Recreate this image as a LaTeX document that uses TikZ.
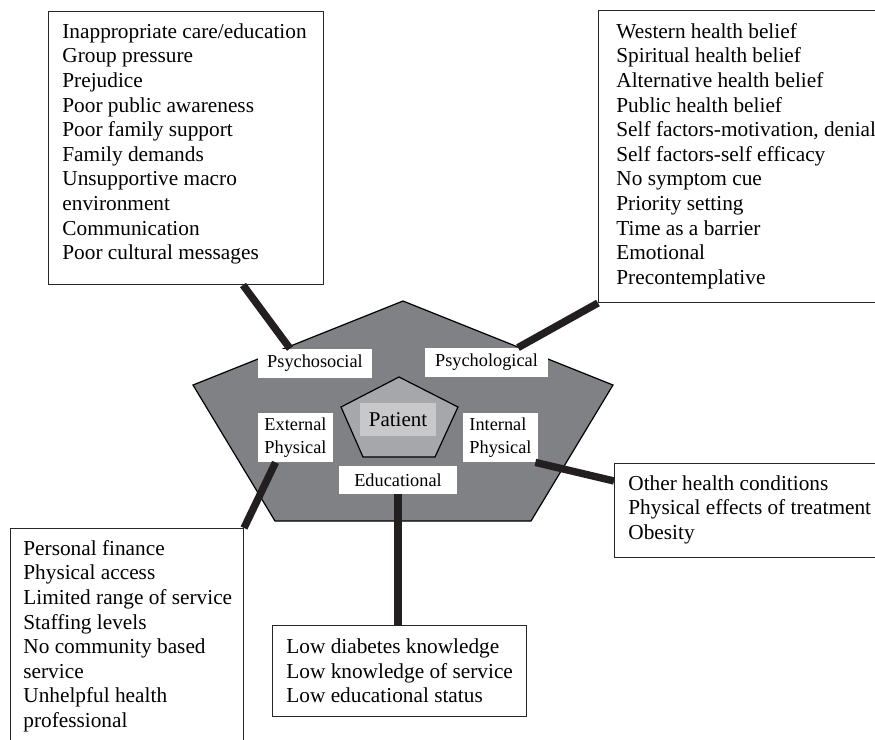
\documentclass[tikz,border=0pt]{standalone}
\usepackage{fontspec}
\setmainfont{Liberation Serif}
\usetikzlibrary{calc}
\definecolor{outergray}{RGB}{128, 129, 132}
\definecolor{innergray}{RGB}{166, 167, 170}
\definecolor{patientgray}{RGB}{200, 200, 202}
\definecolor{linkblack}{RGB}{35, 31, 32}

\begin{document}
\begin{tikzpicture}[x=0.5pt, y=-0.5pt,
  listbox/.style={draw=black!85, line width=0.5pt, fill=white, inner sep=0pt, anchor=north west},
  listtext/.style={font=\fontsize{10.65}{12.3}\selectfont, align=left, inner sep=0pt, anchor=north west},
  tag/.style={fill=white, inner sep=0pt, align=left, font=\fontsize{9.15}{11.2}\selectfont},
  link/.style={line width=3.7pt, linkblack}]
  \useasboundingbox (0, 0) rectangle (875, 740);
  \clip (0, 0) rectangle (875, 740);
  \node[listbox, minimum width=137.5pt, minimum height=136.5pt] (socbox) at (48, 11) {};
  \node[listbox, minimum width=146pt, minimum height=146pt] (beliefbox) at (598, 10) {};
  \node[listbox, minimum width=138pt, minimum height=47pt] (bodybox) at (614, 463) {};
  \node[listbox, minimum width=116.5pt, minimum height=115pt] (accessbox) at (10, 528) {};
  \node[listbox, minimum width=127pt, minimum height=45.5pt] (knowbox) at (272, 625) {};
  \node[listtext] (soctext) at (62, 20.6) {\strut Inappropriate care/education\\Group pressure\\Prejudice\\Poor public awareness\\Poor family support\\Family demands\\Unsupportive macro\\environment\\Communication\\Poor cultural messages};
  \node[listtext] (belieftext) at (616, 20.6) {\strut Western health belief\\Spiritual health belief\\Alternative health belief\\Public health belief\\Self factors-motivation, denial\\Self factors-self efficacy\\No symptom cue\\Priority setting\\Time as a barrier\\Emotional\\Precontemplative};
  \node[listtext] (bodytext) at (628, 472.6) {\strut Other health conditions\\Physical effects of treatment\\Obesity};
  \node[listtext] (accesstext) at (23, 537.6) {\strut Personal finance\\Physical access\\Limited range of service\\Staffing levels\\No community based\\service\\Unhelpful health\\professional};
  \node[listtext] (knowtext) at (286, 635.8) {\strut Low diabetes knowledge\\Low knowledge of service\\Low educational status};
  \filldraw[fill=outergray, draw=black, line width=0.6pt] (403, 301) -- (613, 385) -- (531, 521) -- (275, 521) -- (193, 385) -- cycle;
  \filldraw[fill=innergray, draw=black, line width=0.6pt] (399, 377) -- (458, 407) -- (435, 457) -- (363, 457) -- (341, 407) -- cycle;
  \node[fill=patientgray, inner sep=0pt, minimum width=38pt, minimum height=16.5pt, font=\fontsize{10.5}{12}\selectfont] (patient) at (398, 419.5) {Patient};
  \node[tag, minimum width=57pt, minimum height=14.5pt] (psysoc) at (315, 363.5) {Psychosocial};
  \node[tag, minimum width=61.5pt, minimum height=14.5pt] (psylog) at (486.5, 362.5) {Psychological};
  \node[tag, minimum width=37.5pt, minimum height=24.5pt] (extphy) at (295.5, 437.5) {External\\Physical};
  \node[tag, minimum width=37.5pt, minimum height=24.5pt] (intphy) at (500.5, 437.5) {Internal\\Physical};
  \node[tag, minimum width=59pt, minimum height=14pt] (edu) at (398, 480) {Educational};
  \draw[link] ($(socbox.south west)+(195, 0)$) -- ($(psysoc.north)+(-25, 0)$);
  \draw[link] ($(psylog.north)+(31.5, 0)$) -- (beliefbox.south west);
  \draw[link] ($(extphy.south)+(-20, 0)$) -- (accessbox.north east);
  \draw[link] ($(intphy.south east)+(-3, 0)$) -- ($(bodybox.north west)+(0, 18)$);
  \draw[link] (edu.south) -- (edu.south |- knowbox.north);
\end{tikzpicture}
\end{document}
